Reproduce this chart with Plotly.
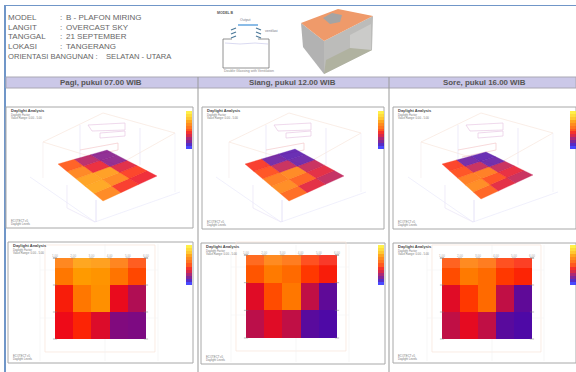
import plotly.graph_objects as go
from plotly.colors import sample_colorscale

# ---------- data ----------
info_labels = ["MODEL", "LANGIT", "TANGGAL", "LOKASI"]
info_values = ["B - PLAFON MIRING", "OVERCAST SKY", "21 SEPTEMBER", "TANGERANG"]
orientation_label = "ORIENTASI BANGUNAN :"
orientation_value = "SELATAN - UTARA"
panel_titles = ["Pagi, pukul 07.00 WIB", "Siang, pukul 12.00 WIB", "Sore, pukul 16.00 WIB"]
plan_ticks = ["1.00", "2.00", "3.00", "4.00", "5.00", "6.00"]

pagi = [[74, 85, 83, 73, 61],
        [53, 74, 82, 49, 37],
        [50, 54, 46, 28, 27]]
siang = [[64, 75, 70, 58, 53],
         [47, 62, 74, 40, 20],
         [39, 47, 40, 18, 14]]
sore = [[62, 75, 70, 58, 54],
        [47, 58, 70, 40, 20],
        [40, 48, 40, 18, 14]]
legend_levels = [100, 96, 92, 85, 76, 68, 60, 52, 44, 34, 24, 8, 0]

scale_stops = [(0, "#3030ff"), (10, "#4208b0"), (20, "#5f0a98"), (30, "#8a0a78"),
               (40, "#c00f45"), (50, "#ee0a18"), (55, "#ff2a00"), (65, "#ff5a00"),
               (75, "#ff7a00"), (85, "#ff9a00"), (100, "#ffee30")]

# ---------- layout geometry (page pixels) ----------
colorscale = [[v / 100, c] for v, c in scale_stops]
series = [pagi, siang, sore]
plan_x = [(55, 146), (246, 337), (442, 532)]
plan_y = [(258, 339), (255, 338), (258, 339)]
iso = [((103, 201), (58, 164), (157, 176), (107, 150)),
       ((289, 201), (245, 164), (344, 176), (295, 149)),
       ((481, 199), (442, 164), (533, 175), (486, 152))]
frames_top = [(6, 107, 193, 228), (202, 107, 384, 229), (393, 107, 576, 229)]
frames_low = [(8, 242, 193, 363), (201, 243, 385, 364), (393, 243, 576, 363)]
legend_x = [(186, 192), (378, 384), (570, 576)]
FONT = "Liberation Sans"

fig = go.Figure()
shapes, ann = [], []


def color(v):
    return sample_colorscale(colorscale, [v / 100])[0]


def rect(x0, y0, x1, y1, line="#a8a8a8", w=1, fill=None, op=1, layer="below"):
    shapes.append(dict(type="rect", x0=x0, y0=y0, x1=x1, y1=y1, layer=layer, opacity=op,
                       line=dict(color=line, width=w) if line else dict(width=0),
                       fillcolor=fill or "rgba(0,0,0,0)"))


def line(pts, color_, w=0.6, op=1, fill=None, closed=False):
    p = "M" + " L".join(f"{x},{y}" for x, y in pts) + (" Z" if closed else "")
    shapes.append(dict(type="path", path=p, layer="below", opacity=op,
                       line=dict(color=color_, width=w) if w else dict(width=0),
                       fillcolor=fill or "rgba(0,0,0,0)"))


def text(x, y, s, size=8, col="#666", anchor="left", bold=False):
    ann.append(dict(x=x, y=y, text=f"<b>{s}</b>" if bold else s, showarrow=False, xanchor=anchor,
                    yanchor="middle", font=dict(family=FONT, size=size, color=col),
                    xref="x", yref="y", borderpad=0))


# page furniture
rect(4, 5, 576, 6, line=None, fill="#7096c8")
rect(4, 5, 6, 372, line=None, fill="#7096c8")
rect(6, 77, 576, 88, line="#aaa8b4", fill="#cbc8e8")
for x in (198, 389):
    rect(x - 0.5, 77, x + 0.5, 372, line=None, fill="#9a9a9a")

# header text
for i, (a, b) in enumerate(zip(info_labels, info_values)):
    y = 17.5 + i * 9.7
    text(7, y, a, 8)
    text(59, y, ":", 8)
    text(65, y, b, 8)
text(7, 56, orientation_label, 7.6)
text(105, 56, orientation_value, 7.6)
for cx, t in zip((101, 292.5, 484.5), panel_titles):
    text(cx, 82.5, t, 7.9, "#555", "center", True)

# section sketch
text(216, 13, "MODEL B", 3.5, "#555", bold=True)
text(245, 20, "Output", 3.5, "#778", "center")
text(264, 31, "ventilasi", 3.5, "#778")
text(249, 71, "Double Glassing with Ventilation", 3.5, "#888", "center")
line([(238, 25), (258, 25)], "#3f8fd8", 1.2)
line([(232, 39), (223, 39), (223, 68), (269, 68), (269, 39), (258, 39)], "#777", 0.8)
line([(225, 43), (240, 44), (255, 43), (268, 44)], "#d0d0ee", 0.8)
for x0, d in ((236, -1), (256, 1)):
    for k in (28, 32, 36):
        line([(x0, k), (x0 + d * 5, k + 2)], "#4d7a9a", 1.3)

# building perspective
line([(301, 23), (324, 41), (324, 74), (303, 47)], "#b0b0b0", 0, fill="#b2b2b2", closed=True)
line([(324, 41), (373, 16), (372, 50), (324, 74)], "#b5b5b5", 0, fill="#bcbcba", closed=True)
line([(350, 35), (371, 24), (371, 50), (350, 60)], "#c8c8c8", 0, fill="#cbcbc9", closed=True)
line([(324, 74), (372, 50), (350, 48), (326, 60)], "#aeb09c", 0, fill="#b0b2a0", closed=True)
line([(301, 23), (338, 9), (373, 16), (324, 41)], "#ef9a6a", 0, fill="#ef9a6a", closed=True)
line([(323, 18), (332, 13), (342, 15), (340, 22), (330, 24)], "#999", 0, fill="#a4a4a4", closed=True)

for p in range(3):
    grid = series[p]
    # frames
    rect(*frames_top[p], line="#a8a8a8", w=1)
    rect(*frames_low[p], line="#a8a8a8", w=1)

    # faint model wireframes in the perspective panel (drawn relative to panel 1)
    ox = iso[p][0][0] - iso[0][0][0]
    line([(43 + ox, 142), (103 + ox, 113), (175 + ox, 133), (118 + ox, 165), (43 + ox, 142)], "#f6e2d6", 0.6)
    line([(30 + ox, 177), (95 + ox, 222), (180 + ox, 192)], "#eaeafa", 0.7)
    line([(43 + ox, 142), (43 + ox, 178)], "#f4eaea", 0.6)
    line([(175 + ox, 133), (175 + ox, 192)], "#eeecf8", 0.6)
    line([(80 + ox, 125), (80 + ox, 168)], "#e6e2f6", 0.7)
    line([(140 + ox, 128), (140 + ox, 165)], "#e6e2f6", 0.7)
    line([(67 + ox, 185), (67 + ox, 208), (95 + ox, 222)], "#eae4f6", 0.7)
    line([(96 + ox, 200), (96 + ox, 222)], "#e2dff6", 0.9)
    line([(88 + ox, 125), (125 + ox, 123), (125 + ox, 130), (92 + ox, 131), (88 + ox, 125)], "#e8c8e4", 0.7)
    line([(100 + ox, 133), (125 + ox, 131), (125 + ox, 136), (100 + ox, 138), (100 + ox, 133)], "#e8c8e4", 0.7)
    line([(80 + ox, 150), (118 + ox, 143), (118 + ox, 150), (84 + ox, 157)], "#f4c8cc", 0.7)

    # perspective cells from the same grid values
    B, L, R, T = iso[p]
    nr, nc = len(grid), len(grid[0])

    def proj(c, r):
        u, v = c / nc, r / nr
        return tuple((1 - u) * (1 - v) * B[k] + u * (1 - v) * L[k] + (1 - u) * v * R[k] + u * v * T[k] for k in (0, 1))

    for r in range(nr):
        for c in range(nc):
            pts = [proj(c, r), proj(c + 1, r), proj(c + 1, r + 1), proj(c, r + 1), proj(c, r)]
            fig.add_trace(go.Scatter(x=[q[0] for q in pts], y=[q[1] for q in pts], mode="lines", fill="toself",
                                     fillcolor=color(grid[r][c]), line=dict(width=0.3, color=color(grid[r][c])),
                                     opacity=0.84, hoverinfo="skip", showlegend=False))

    # plan heat map
    x0, x1 = plan_x[p]
    y0, y1 = plan_y[p]
    xs = [x0 + (x1 - x0) * i / nc for i in range(nc + 1)]
    ys = [y0 + (y1 - y0) * i / nr for i in range(nr + 1)]
    fig.add_trace(go.Heatmap(x=xs, y=ys, z=grid, zmin=0, zmax=100, colorscale=colorscale,
                             showscale=False, hoverinfo="skip", xgap=0, ygap=0))
    rect(x0, y0, x1, y0 + (ys[1] - ys[0]) * 0.37, line=None, fill="#ffffff", op=0.13, layer="above")

    # faint surrounding plan lines
    rect(x0 - 10, y0 - 13, x1 + 9, y1 + 13, line="#f8e4d8", w=0.7)
    for vx in (x0 - 15, x0 + 50, x1 + 12):
        line([(vx, frames_low[p][1] + 2), (vx, frames_low[p][3] - 2)], "#f2f2f2", 0.6)
    for hy in (y0 + 12, y0 + 60):
        line([(x0 - 15, hy), (x1 + 12, hy)], "#f5f5f5", 0.6)

    # grid ticks + small plan labels
    fig.add_trace(go.Scatter(x=xs + [x0] * 4 + [x1] * 4, y=[y0] * 6 + ys + ys,
                             mode="markers", marker=dict(symbol="line-ew", size=3, line=dict(width=0.5, color="#777")),
                             hoverinfo="skip", showlegend=False))
    fig.add_trace(go.Scatter(x=xs, y=[y0 - 2] * 6, mode="text", text=plan_ticks,
                             textfont=dict(size=3, family=FONT, color="#aaa"), hoverinfo="skip", showlegend=False))

    # stepped legend bars
    lx0, lx1 = legend_x[p]
    for ly0, ly1 in ((111, 149), (245, 285)):
        n = len(legend_levels)
        ey = [ly0 + (ly1 - ly0) * i / n for i in range(n + 1)]
        fig.add_trace(go.Heatmap(x=[lx0, lx1], y=ey, z=[[v] for v in legend_levels], zmin=0, zmax=100,
                                 colorscale=colorscale, showscale=False, hoverinfo="skip", opacity=0.88))

    # small panel captions
    for fr in (frames_top[p], frames_low[p]):
        tx = fr[0] + 4
        ty = fr[1] + 3.5
        text(tx, ty, "Daylight Analysis", 4, "#444", bold=True)
        text(tx, ty + 4, "Daylight Factor", 2.8, "#777")
        text(tx, ty + 7, "Value Range: 0.00 - 5.00", 2.8, "#777")
        text(tx, fr[3] - 7, "ECOTECT v5", 2.8, "#777")
        text(tx, fr[3] - 4, "Daylight Levels", 2.8, "#777")

fig.update_layout(
    width=576, height=372, autosize=False,
    margin=dict(l=0, r=0, t=0, b=0),
    paper_bgcolor="white", plot_bgcolor="white",
    showlegend=False, shapes=shapes, annotations=ann,
    xaxis=dict(range=[0, 576], visible=False, fixedrange=True),
    yaxis=dict(range=[372, 0], visible=False, fixedrange=True),
)
fig.write_html("out.html", config={"displayModeBar": False},
               post_script="document.body.style.margin='0';document.documentElement.style.overflow='hidden';")
